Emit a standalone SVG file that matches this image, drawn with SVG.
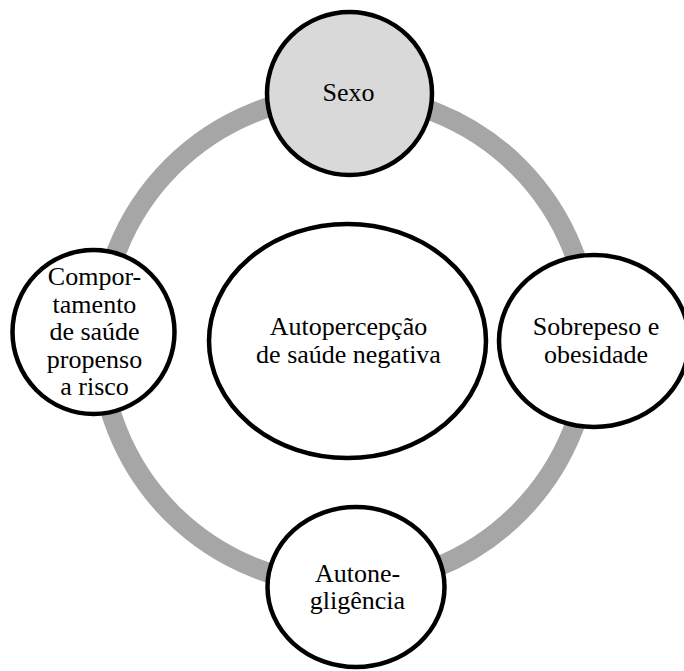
<svg xmlns="http://www.w3.org/2000/svg" width="684" height="671" viewBox="0 0 684 671">
<style>
.node{fill:#FFFFFF;stroke:#000000;stroke-width:4.5}
.grey{fill:#D9D9D9}
.ring{fill:none;stroke:#A6A6A6;stroke-width:20}
text{font-family:"Liberation Serif","Times New Roman",serif;font-size:26px;fill:#000000;text-anchor:middle}
</style>
<rect x="0" y="0" width="684" height="671" fill="#FFFFFF"/>
<g id="connectors">
<circle class="ring" cx="345" cy="340" r="245"/>
</g>
<g id="center">
<ellipse class="node" cx="347.5" cy="341" rx="138.5" ry="117"/>
<text x="348.5" y="335">Autopercepção</text>
<text x="348.5" y="363">de saúde negativa</text>
</g>
<g id="sexo">
<ellipse class="node grey" cx="349.5" cy="93.5" rx="82.5" ry="81.5"/>
<text x="348.5" y="100.5">Sexo</text>
</g>
<g id="sobrepeso">
<ellipse class="node" cx="594" cy="341" rx="95" ry="86"/>
<text x="596" y="335">Sobrepeso e</text>
<text x="596" y="363">obesidade</text>
</g>
<g id="autonegligencia">
<ellipse class="node" cx="356" cy="587" rx="88.5" ry="80"/>
<text x="357.5" y="581.5">Autone-</text>
<text x="357.5" y="609">gligência</text>
</g>
<g id="comportamento">
<ellipse class="node" cx="93.5" cy="332" rx="81" ry="82"/>
<text x="94.5" y="285">Compor-</text>
<text x="94.5" y="312.5">tamento</text>
<text x="94.5" y="340">de saúde</text>
<text x="94.5" y="367.5">propenso</text>
<text x="94.5" y="395">a risco</text>
</g>
</svg>
